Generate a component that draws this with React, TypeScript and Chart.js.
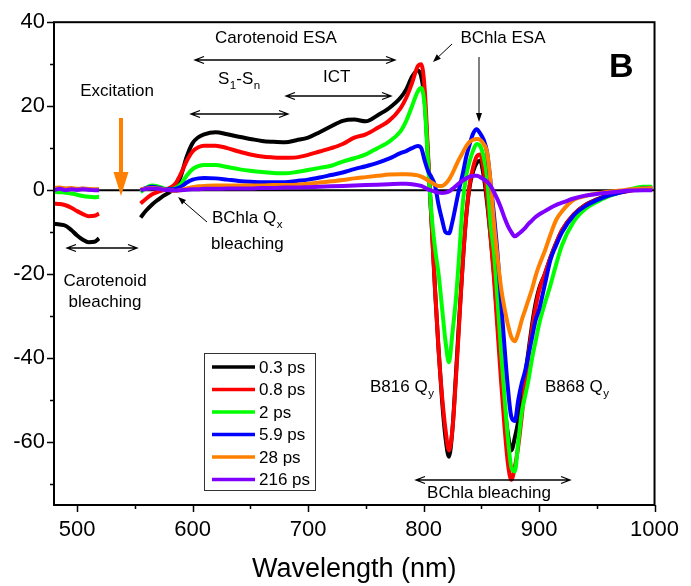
import React, { useEffect, useRef } from "react";
import { Chart, registerables } from "chart.js";

Chart.register(...registerables);

const FONT = '"Liberation Sans", Arial, Helvetica, sans-serif';

// Wavelength grid (nm); null gap at 537 nm (excitation region)
const wavelengths = [
  480, 485, 490, 495, 500, 505, 510, 515, 519,
  537,
  555, 560, 565, 570, 575, 580, 585, 590, 595, 600, 605, 610,
  620, 630, 640, 650, 660, 670, 680, 690, 700, 710, 720, 730, 740, 750, 760, 770, 780,
  785, 790, 795,
  798, 801, 804, 807, 810, 813, 816, 819, 822, 825, 828, 831, 834, 837, 840, 843, 846, 849, 852, 855, 858, 861, 864, 867, 870, 873, 876, 879, 882, 885, 888, 891, 894, 897,
  900, 905, 910, 915, 920,
  930, 940, 950, 960, 970, 980, 990, 998,
];

const delays = ["0.3 ps", "0.8 ps", "2 ps", "5.9 ps", "28 ps", "216 ps"];
const seriesColors = ["#000000", "#ff0000", "#00ff00", "#0000ff", "#ff8000", "#8000ff"];

const s03 = [
  -8, -8.2, -8.5, -9.5, -10.8, -11.8, -12.4, -12.3, -11.5,
  null,
  -6.5, -4.8, -3.4, -2.3, -1.3, -0.5, 0.5, 3.5, 8, 11.2, 12.6, 13.3,
  13.8, 13.3, 12.7, 12.2, 11.7, 11.5, 11.4, 11.9, 12.5, 13.8, 15.2, 16.5, 16.8, 16.4, 17.8, 19.5, 22,
  24, 27, 28.5,
  27, 21, 7, -8, -24, -38, -50, -59, -63.5, -57, -44, -30, -17, -6, 1, 4.5, 6.5, 7, 3.5, -3, -11, -20, -31, -42, -51, -58, -62, -59, -55, -50, -44, -38, -32, -27,
  -23.5, -20, -16, -12.5, -9.5,
  -5.8, -3.5, -2.2, -1.2, -0.5, 0, 0.4, 0.5,
];

const s08 = [
  -3.2, -3.3, -3.6, -4.2, -5, -5.7, -6.2, -6.1, -5.6,
  null,
  -3.2, -2, -1, -0.4, 0, 0.5, 1.5, 4, 7, 9.2, 10.2, 10.6,
  10.6, 10, 9.2, 8.5, 8, 7.8, 7.7, 7.8, 8.4, 9.2, 10, 11, 12.5, 13.3, 14.8, 16.5, 19.5,
  22, 25.5, 29.5,
  30, 24, 8, -8, -24, -38, -49, -57, -62, -57, -45, -31, -17, -6, 1.5, 5.5, 8, 8.5, 5, -2, -11, -21, -33, -45, -56, -65, -69, -66, -61, -54, -46, -39, -33, -28,
  -24, -20, -16, -12.5, -9.5,
  -5.8, -3.6, -2.3, -1.3, -0.6, -0.1, 0.4, 0.5,
];

const s2 = [
  -0.4, -0.5, -0.6, -0.8, -1.1, -1.4, -1.6, -1.7, -1.6,
  null,
  -0.5, 0.6, 1.1, 0.9, 0.4, 0.2, 0.5, 1.5, 3.5, 5, 5.7, 6,
  6, 5.5, 5, 4.6, 4.3, 4.1, 4, 4.3, 4.8, 5.3, 5.8, 6.8, 7.6, 8.5, 10, 11.5, 14,
  16.5, 20, 23.5,
  24.3, 20, 6, -6, -14, -20, -28, -36, -41, -34, -26, -15, -3, 3.5, 7, 9.5, 11, 10.5, 8, 3, -8, -15, -26, -38, -49, -59, -66, -67, -60, -53, -49, -45, -40, -36,
  -32, -27, -22.5, -17.5, -13,
  -7.5, -4.5, -2.8, -1.5, -0.5, 0.3, 0.8, 0.8,
];

const s59 = [
  0.3, 0.4, 0.3, 0.3, 0.2, 0.3, 0.2, 0.1, 0.1,
  null,
  0, 0.5, 0.8, 0.6, 0.3, 0.2, 0.3, 0.8, 1.8, 2.5, 2.8, 2.9,
  2.8, 2.5, 2.2, 2, 1.9, 1.9, 1.9, 2.2, 2.5, 3, 3.6, 4.2, 5, 5.7, 6.5, 7.5, 8.8,
  9.3, 10, 10.5,
  10, 7, 4.5, 3, 1, -3.5, -7, -10, -10.3, -7.5, -3.5, 0.5, 4, 8, 11, 13.5, 14.5, 13.5, 12, 9, 2, -6, -15, -26, -37, -47, -54, -55, -50, -46, -43, -39, -35, -31,
  -28.5, -22.5, -16.5, -13, -10,
  -6, -3.8, -2.4, -1.3, -0.6, 0, 0.4, 0.5,
];

const s28 = [
  0.5, 0.6, 0.4, 0.5, 0.3, 0.4, 0.3, 0.2, 0.2,
  null,
  0.2, 0.4, 0.5, 0.4, 0.2, 0, -0.2, 0, 0.4, 0.7, 0.9, 1,
  1.1, 1.1, 1.1, 1.1, 1.1, 1.2, 1.2, 1.3, 1.5, 1.8, 2.1, 2.4, 2.8, 3.1, 3.4, 3.7, 3.8,
  3.8, 3.7, 3.5,
  3.2, 2.8, 2.3, 1.8, 1.3, 1, 1, 1.5, 2.5, 4, 5.8, 7.5, 9, 10.5, 11.5, 12, 12.2, 12, 11, 9, 2, -8, -16, -23, -28, -32, -35, -36, -34, -31, -28.5, -26, -23.5, -20.5,
  -18, -14.5, -10.5, -7, -5,
  -2.3, -1.4, -0.8, -0.4, -0.1, 0.2, 0.4, 0.5,
];

const s216 = [
  0, 0.3, 0, 0.2, 0.1, 0.2, 0.1, 0, 0,
  null,
  0, 0.3, 0.4, 0.3, 0.1, 0, -0.1, 0, 0.1, 0.2, 0.2, 0.3,
  0.3, 0.4, 0.4, 0.4, 0.5, 0.5, 0.6, 0.6, 0.7, 0.8, 0.9, 1, 1.1, 1.2, 1.3, 1.4, 1.5,
  1.5, 1.4, 1.2,
  1, 0.6, 0.2, -0.1, -0.4, -0.6, -0.7, -0.6, -0.3, 0.3, 1, 1.7, 2.3, 2.8, 3.2, 3.4, 3.4, 3.1, 2.6, 2, 1, -0.5, -2.2, -4.2, -6.5, -8.5, -10, -11, -10.5, -9.8, -9, -8, -7.2, -6.4,
  -5.8, -5, -4.2, -3.5, -3,
  -2, -1.3, -0.9, -0.6, -0.3, -0.1, 0, 0,
];

const seriesValues = [s03, s08, s2, s59, s28, s216];

const xTickValues = [500, 600, 700, 800, 900, 1000];
const xMinorTickValues = [550, 650, 750, 850, 950];
const yTickValues = [-60, -40, -20, 0, 20, 40];
const yMinorTickValues = [-70, -50, -30, -10, 10, 30];

function txt(ctx: CanvasRenderingContext2D, s: string, x: number, y: number, size: number, align: CanvasTextAlign = "left", weight = "normal") {
  ctx.font = `${weight} ${size}px ${FONT}`;
  ctx.textAlign = align;
  ctx.textBaseline = "alphabetic";
  ctx.fillStyle = "#000";
  ctx.fillText(s, x, y);
  return ctx.measureText(s).width;
}

// text with subscripts: parts are [main, sub]
function subText(ctx: CanvasRenderingContext2D, parts: [string, string][], x: number, y: number, size: number) {
  let cx = x;
  for (const [main, sub] of parts) {
    cx += txt(ctx, main, cx, y, size);
    if (sub) cx += txt(ctx, sub, cx + 0.5, y + 5, size * 0.68) + 0.5;
  }
}

function doubleArrow(ctx: CanvasRenderingContext2D, x1: number, x2: number, y: number) {
  ctx.save();
  ctx.strokeStyle = "#000";
  ctx.lineWidth = 1.3;
  ctx.beginPath();
  ctx.moveTo(x1, y);
  ctx.lineTo(x2, y);
  ctx.moveTo(x1 + 9, y - 3.5);
  ctx.lineTo(x1, y);
  ctx.lineTo(x1 + 9, y + 3.5);
  ctx.moveTo(x2 - 9, y - 3.5);
  ctx.lineTo(x2, y);
  ctx.lineTo(x2 - 9, y + 3.5);
  ctx.stroke();
  ctx.restore();
}

function arrow(ctx: CanvasRenderingContext2D, x1: number, y1: number, x2: number, y2: number, color = "#000", width = 1, headLen = 8, headHalf = 3) {
  const a = Math.atan2(y2 - y1, x2 - x1);
  const bx = x2 - headLen * Math.cos(a);
  const by = y2 - headLen * Math.sin(a);
  ctx.save();
  ctx.strokeStyle = color;
  ctx.fillStyle = color;
  ctx.lineWidth = width;
  ctx.beginPath();
  ctx.moveTo(x1, y1);
  ctx.lineTo(bx, by);
  ctx.stroke();
  ctx.beginPath();
  ctx.moveTo(x2, y2);
  ctx.lineTo(bx + headHalf * Math.sin(a), by - headHalf * Math.cos(a));
  ctx.lineTo(bx - headHalf * Math.sin(a), by + headHalf * Math.cos(a));
  ctx.closePath();
  ctx.fill();
  ctx.restore();
}

const decorPlugin = {
  id: "decor",
  beforeDatasetsDraw(chart: any) {
    const { ctx, chartArea } = chart;
    const y0 = chart.scales.y.getPixelForValue(0);
    ctx.save();
    ctx.strokeStyle = "#000";
    ctx.lineWidth = 2;
    ctx.beginPath();
    ctx.moveTo(chartArea.left, y0);
    ctx.lineTo(chartArea.right, y0);
    ctx.stroke();
    ctx.restore();
  },
  afterDatasetsDraw(chart: any) {
    const { ctx, chartArea } = chart;
    const { left, right, top, bottom } = chartArea;
    const xs = chart.scales.x;
    const ys = chart.scales.y;
    ctx.save();
    // frame
    ctx.strokeStyle = "#000";
    ctx.lineWidth = 2;
    ctx.strokeRect(left, top, right - left, bottom - top);
    // ticks
    ctx.lineWidth = 1.5;
    ctx.beginPath();
    for (const v of xTickValues) {
      const p = Math.round(xs.getPixelForValue(v)) + 0.5;
      ctx.moveTo(p, bottom);
      ctx.lineTo(p, bottom + 7);
    }
    for (const v of xMinorTickValues) {
      const p = Math.round(xs.getPixelForValue(v)) + 0.5;
      ctx.moveTo(p, bottom);
      ctx.lineTo(p, bottom + 4);
    }
    for (const v of yTickValues) {
      const p = Math.round(ys.getPixelForValue(v)) + 0.5;
      ctx.moveTo(left, p);
      ctx.lineTo(left - 7, p);
    }
    for (const v of yMinorTickValues) {
      const p = Math.round(ys.getPixelForValue(v)) + 0.5;
      ctx.moveTo(left, p);
      ctx.lineTo(left - 4, p);
    }
    ctx.stroke();

    // annotations
    txt(ctx, "Carotenoid ESA", 276, 43, 17, "center");
    doubleArrow(ctx, 195, 395, 60);
    subText(ctx, [["S", "1"], ["-S", "n"]], 218, 84, 17);
    doubleArrow(ctx, 191, 288, 114);
    txt(ctx, "ICT", 323, 82, 17);
    doubleArrow(ctx, 286, 391, 96);
    txt(ctx, "Excitation", 117, 96, 17, "center");
    arrow(ctx, 121, 118, 121, 196, "#ff8000", 4, 24, 7.5);
    subText(ctx, [["BChla Q", "x"]], 212, 223, 17);
    txt(ctx, "bleaching", 211, 249, 17);
    arrow(ctx, 207, 222, 178, 197, "#000", 1, 8, 3);
    doubleArrow(ctx, 67, 137, 248);
    txt(ctx, "Carotenoid", 105, 286, 17, "center");
    txt(ctx, "bleaching", 105, 307, 17, "center");
    txt(ctx, "BChla ESA", 503, 43, 17, "center");
    arrow(ctx, 452, 44, 433, 62, "#000", 1, 8, 3);
    arrow(ctx, 479, 57, 479, 122, "#000", 1, 9, 3);
    txt(ctx, "B", 609, 77, 34, "left", "bold");
    subText(ctx, [["B816 Q", "y"]], 370, 392, 17);
    subText(ctx, [["B868 Q", "y"]], 545, 392, 17);
    doubleArrow(ctx, 416, 570, 480);
    txt(ctx, "BChla bleaching", 489, 498, 17, "center");

    // legend
    ctx.fillStyle = "#fff";
    ctx.fillRect(204.5, 353.5, 111, 137);
    ctx.strokeStyle = "#333";
    ctx.lineWidth = 1;
    ctx.strokeRect(204.5, 353.5, 111, 137);
    chart.data.datasets.forEach((ds: any, i: number) => {
      const y = 367 + i * 22.5;
      ctx.strokeStyle = ds.borderColor;
      ctx.lineWidth = 3.5;
      ctx.beginPath();
      ctx.moveTo(212, y);
      ctx.lineTo(255, y);
      ctx.stroke();
      ctx.font = `17px ${FONT}`;
      ctx.fillStyle = "#000";
      ctx.textAlign = "left";
      ctx.textBaseline = "middle";
      ctx.fillText(ds.label, 259, y + 1);
    });
    ctx.restore();
  },
};

export default function App() {
  const canvasRef = useRef<HTMLCanvasElement | null>(null);

  useEffect(() => {
    document.body.style.margin = "0";
    const canvas = canvasRef.current;
    if (!canvas) return;
    Chart.defaults.font.family = FONT;
    const datasets = seriesValues.map((vals, i) => ({
      label: delays[i],
      data: wavelengths.map((w, j) => ({ x: w, y: vals[j] })),
      borderColor: seriesColors[i],
      backgroundColor: seriesColors[i],
      borderWidth: 4,
      pointRadius: 0,
      fill: false,
      spanGaps: false,
      cubicInterpolationMode: "monotone" as const,
      order: seriesValues.length - 1 - i,
    }));
    const chart = new Chart(canvas, {
      type: "line",
      data: { datasets },
      options: {
        responsive: false,
        animation: false,
        devicePixelRatio: 1,
        layout: { padding: { top: 22, right: 33, left: 0, bottom: 0 } },
        plugins: { legend: { display: false }, tooltip: { enabled: false } },
        scales: {
          x: {
            type: "linear",
            min: 480,
            max: 1000,
            grid: { display: false, drawTicks: false },
            border: { display: false },
            afterBuildTicks: (s: any) => {
              s.ticks = xTickValues.map((v) => ({ value: v }));
            },
            afterFit: (s: any) => {
              s.height = 81;
            },
            ticks: {
              color: "#000",
              font: { size: 22, family: FONT },
              padding: 12,
              maxRotation: 0,
              autoSkip: false,
              callback: (v: any) => String(v),
            },
            title: {
              display: true,
              text: "Wavelength (nm)",
              color: "#000",
              font: { size: 27, family: FONT },
              padding: { top: 0, bottom: 0 },
            },
          },
          y: {
            type: "linear",
            min: -75,
            max: 40,
            grid: { display: false, drawTicks: false },
            border: { display: false },
            afterBuildTicks: (s: any) => {
              s.ticks = yTickValues.map((v) => ({ value: v }));
            },
            afterFit: (s: any) => {
              s.width = 54;
            },
            ticks: {
              color: "#000",
              font: { size: 22, family: FONT },
              padding: 9,
              autoSkip: false,
              callback: (v: any) => String(v),
            },
          },
        },
      },
      plugins: [decorPlugin],
    });
    return () => chart.destroy();
  }, []);

  return (
    <div style={{ width: 691, height: 586 }}>
      <canvas ref={canvasRef} width={691} height={586} style={{ display: "block" }} />
    </div>
  );
}
